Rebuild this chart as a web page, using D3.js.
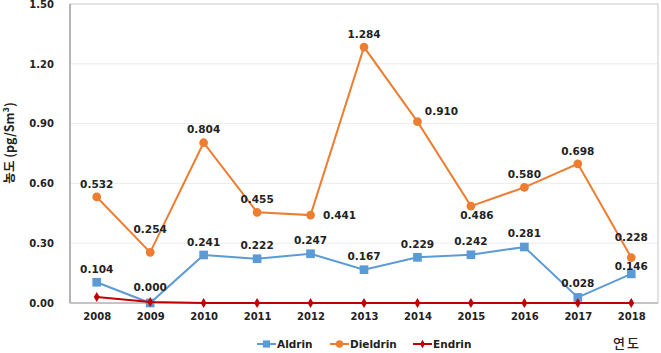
<!DOCTYPE html>
<html>
<head>
<meta charset="utf-8">
<script src="https://cdn.jsdelivr.net/npm/d3@7"></script>
<style>
  body { margin: 0; background: #fff; }
  text { font-family: "DejaVu Sans", Verdana, sans-serif; }
</style>
</head>
<body>
<div id="chart"></div>
<script>
const years = ["2008", "2009", "2010", "2011", "2012", "2013", "2014", "2015", "2016", "2017", "2018"];
const aldrin = [0.104, 0.000, 0.241, 0.222, 0.247, 0.167, 0.229, 0.242, 0.281, 0.028, 0.146];
const dieldrin = [0.532, 0.254, 0.804, 0.455, 0.441, 1.284, 0.910, 0.486, 0.580, 0.698, 0.228];
const endrin = [0.03, 0.005, 0, 0, 0, 0, 0, 0, 0, 0, 0];
const yTicks = [0, 0.3, 0.6, 0.9, 1.2, 1.5];

const W = 661, H = 353;
const margin = { top: 4, right: 3, bottom: 50, left: 70 };
const width = W - margin.left - margin.right;
const height = H - margin.top - margin.bottom;

const svg = d3.select("#chart").append("svg")
  .attr("width", W).attr("height", H);

const g = svg.append("g")
  .attr("transform", `translate(${margin.left},${margin.top})`);

const x = d3.scalePoint().domain(years).range([0, width]).padding(0.5);
const y = d3.scaleLinear().domain([0, 1.5]).range([height, 0]);

// gridlines
g.selectAll(".grid").data(yTicks.slice(1, -1)).join("line")
  .attr("x1", 0).attr("x2", width)
  .attr("y1", d => y(d)).attr("y2", d => y(d))
  .attr("stroke", "#ececec").attr("stroke-width", 1);

// plot border
g.append("rect")
  .attr("x", 0).attr("y", 0).attr("width", width).attr("height", height)
  .attr("fill", "none").attr("stroke", "#c8c8c8").attr("stroke-width", 1);

g.append("line")
  .attr("x1", 0).attr("x2", 0).attr("y1", 0).attr("y2", height)
  .attr("stroke", "#a6a6a6").attr("stroke-width", 1.5);
g.append("line")
  .attr("x1", 0).attr("x2", width).attr("y1", height).attr("y2", height)
  .attr("stroke", "#a6a6a6").attr("stroke-width", 1);

// axes
const yAxis = g.append("g")
  .call(d3.axisLeft(y).tickValues(yTicks).tickFormat(d3.format(".2f")).tickSize(0).tickPadding(16));
yAxis.select(".domain").remove();
yAxis.selectAll("text")
  .attr("font-size", 10).attr("font-weight", "bold").attr("fill", "#222")
  .attr("font-family", "DejaVu Sans");

const xAxis = g.append("g")
  .attr("transform", `translate(0,${height})`)
  .call(d3.axisBottom(x).tickSize(0).tickPadding(10));
xAxis.select(".domain").remove();
xAxis.selectAll("text")
  .attr("font-size", 10).attr("font-weight", "bold").attr("fill", "#222")
  .attr("font-family", "DejaVu Sans");

// series
const series = [
  { name: "Aldrin", values: aldrin, color: "#5b9bd5", symbol: d3.symbolSquare, size: 75, labels: true },
  { name: "Dieldrin", values: dieldrin, color: "#ed7d31", symbol: d3.symbolCircle, size: 60, labels: true },
  { name: "Endrin", values: endrin, color: "#c00000", symbol: d3.symbolDiamond, size: 30, labels: false }
];

// label offsets (text centre relative to marker), default above
const labelShift = {
  Aldrin: { 1: [0, -16], 10: [0, -8], 8: [0, -14], 9: [0, -14] },
  Dieldrin: { 1: [0, -23], 4: [29, 0], 6: [24, -10], 7: [6, 9], 10: [0, -20] }
};

const line = d3.line()
  .x((d, i) => x(years[i]))
  .y(d => y(d));

series.forEach(s => {
  g.append("path")
    .datum(s.values)
    .attr("fill", "none")
    .attr("stroke", s.color)
    .attr("stroke-width", 2)
    .attr("d", line);

  g.selectAll(null).data(s.values).join("path")
    .attr("transform", (d, i) => `translate(${x(years[i])},${y(d)})`)
    .attr("d", d3.symbol().type(s.symbol).size(s.size))
    .attr("fill", s.color);
});

series.filter(s => s.labels).forEach(s => {
  g.selectAll(null).data(s.values).join("text")
    .attr("x", (d, i) => x(years[i]) + ((labelShift[s.name][i] || [0, -13])[0]))
    .attr("y", (d, i) => y(d) + ((labelShift[s.name][i] || [0, -13])[1]))
    .attr("dy", "0.35em")
    .attr("text-anchor", "middle")
    .attr("font-size", 10.5).attr("font-weight", "bold").attr("fill", "#222")
    .text(d => d3.format(".3f")(d));
});

// legend
const legend = svg.append("g").attr("transform", "translate(257,344)");
let lx = 0;
const legendGap = [73, 83, 0];
series.forEach((s, i) => {
  const item = legend.append("g").attr("transform", `translate(${lx},0)`);
  item.append("line").attr("x1", 0).attr("x2", 19).attr("y1", 0).attr("y2", 0)
    .attr("stroke", s.color).attr("stroke-width", 2);
  item.append("path").attr("transform", "translate(9.5,0)")
    .attr("d", d3.symbol().type(s.symbol).size(s.size * 0.7))
    .attr("fill", s.color);
  item.append("text").attr("x", 20).attr("dy", "0.35em")
    .attr("font-size", 10.5).attr("font-weight", "bold").attr("fill", "#222")
    .text(s.name);
  lx += legendGap[i];
});

// axis titles
svg.append("text")
  .attr("transform", "translate(10,143) rotate(-90)")
  .attr("text-anchor", "middle").attr("dy", "0.35em")
  .attr("font-size", 12.5).attr("font-weight", "bold").attr("fill", "#222")
  .style("font-family", "'Noto Sans CJK KR', sans-serif")
  .text("농도 (pg/Sm³)");

svg.append("text")
  .attr("x", 627).attr("y", 343).attr("dy", "0.35em")
  .attr("text-anchor", "middle")
  .attr("font-size", 13).attr("font-weight", 500).attr("fill", "#222")
  .attr("letter-spacing", 2)
  .style("font-family", "'Noto Sans CJK KR', sans-serif")
  .text("연도");
</script>
</body>
</html>
